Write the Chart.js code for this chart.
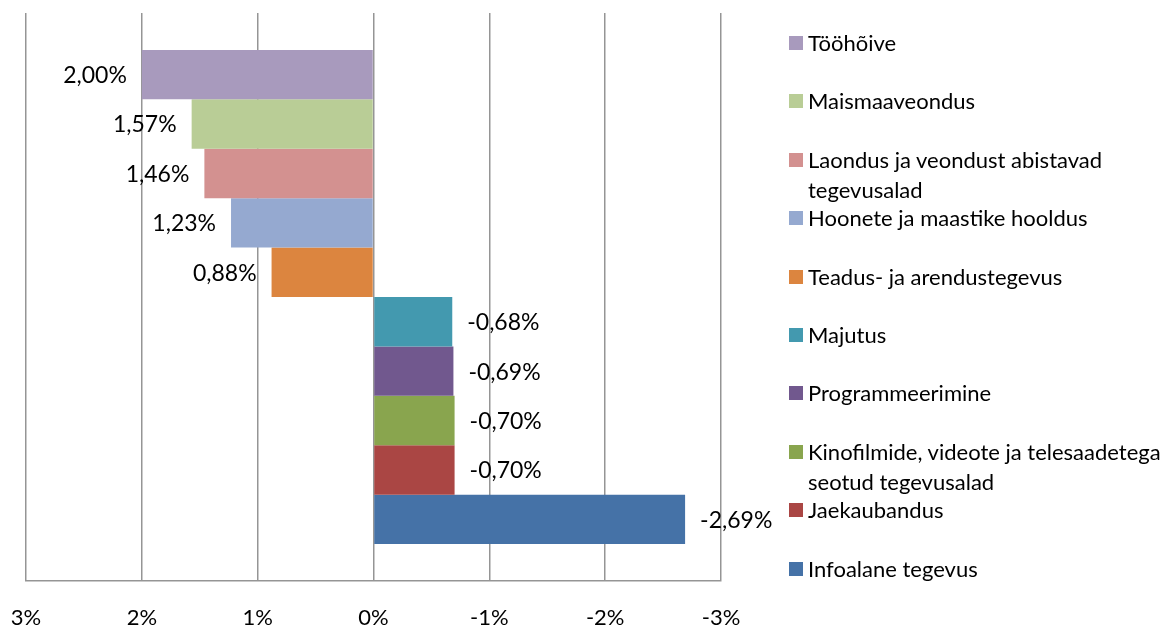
<!DOCTYPE html>
<html>
<head>
<meta charset="utf-8">
<script src="https://cdn.jsdelivr.net/npm/chart.js@4"></script>
<style>
  html, body { margin: 0; padding: 0; background: #fff; }
  #wrap { position: relative; width: 1174px; height: 626px; }
  #legend { position: absolute; left: 789px; top: 0; width: 385px; font-family: Lato, sans-serif; font-size: 22px; color: #000; }
  .item { position: absolute; left: 0; display: flex; align-items: flex-start; width: 385px; }
  .box { width: 14px; height: 14px; flex: none; margin-top: 8px; margin-right: 5px; }
  .txt { line-height: 30px; }
</style>
</head>
<body>
<div id="wrap">
  <canvas id="chart" width="1174" height="626"></canvas>
  <div id="legend"></div>
</div>
<script>
const seriesNames = [
    'Tööhõive',
    'Maismaaveondus',
    'Laondus ja veondust abistavad tegevusalad',
    'Hoonete ja maastike hooldus',
    'Teadus- ja arendustegevus',
    'Majutus',
    'Programmeerimine',
    'Kinofilmide, videote ja telesaadetega seotud tegevusalad',
    'Jaekaubandus',
    'Infoalane tegevus'
];
const seriesValues = [2.00, 1.57, 1.46, 1.23, 0.88, -0.68, -0.69, -0.70, -0.70, -2.69];
const seriesColors = ['#A89ABD', '#B9CD96', '#D39190', '#95A9D0', '#DC853F', '#4399AF', '#71588E', '#89A54E', '#AA4644', '#4572A7'];
const tickValues = [3, 2, 1, 0, -1, -2, -3];

const FONT = 'Lato, sans-serif';

// value labels next to each bar
const barLabels = {
    id: 'barLabels',
    afterDatasetsDraw(chart) {
        const ctx = chart.ctx;
        ctx.save();
        ctx.font = '23px ' + FONT;
        ctx.fillStyle = '#000';
        ctx.textBaseline = 'middle';
        chart.data.datasets.forEach((ds, i) => {
            const bar = chart.getDatasetMeta(i).data[0];
            const v = ds.data[0];
            const txt = v.toFixed(2).replace('.', ',') + '%';
            if (v > 0) {
                ctx.textAlign = 'right';
                ctx.fillText(txt, bar.x - 15, bar.y + 1);
            } else {
                ctx.textAlign = 'left';
                ctx.fillText(txt, bar.x + 15, bar.y + 1);
            }
        });
        ctx.restore();
    }
};

const ctx = document.getElementById('chart');

new Chart(ctx, {
    type: 'bar',
    data: {
        labels: [''],
        datasets: seriesNames.map((name, i) => ({
            label: name,
            data: [seriesValues[i]],
            backgroundColor: seriesColors[i],
            borderWidth: 0,
            barPercentage: 1,
            categoryPercentage: 0.87
        }))
    },
    options: {
        indexAxis: 'y',
        responsive: false,
        animation: false,
        layout: {
            padding: { left: 26, right: 453, top: 13, bottom: 0 }
        },
        plugins: {
            legend: { display: false },
            tooltip: { enabled: false }
        },
        scales: {
            x: {
                type: 'linear',
                reverse: true,
                min: -3,
                max: 3,
                afterBuildTicks: (scale) => {
                    scale.ticks = tickValues.map(v => ({ value: v }));
                },
                afterFit: (scale) => {
                    scale.height = 45;
                    scale.paddingLeft = 0;
                    scale.paddingRight = 0;
                },
                grid: {
                    color: '#959595',
                    lineWidth: 1.5,
                    drawTicks: false
                },
                border: { display: true, color: '#959595', width: 1.5 },
                ticks: {
                    padding: 24,
                    color: '#000',
                    font: { family: FONT, size: 22 },
                    maxRotation: 0,
                    callback: (v) => v + '%'
                }
            },
            y: {
                display: false
            }
        }
    },
    plugins: [barLabels]
});

// legend at the right, one row per series
const legend = document.getElementById('legend');
seriesNames.forEach((name, i) => {
    const item = document.createElement('div');
    item.className = 'item';
    item.style.top = (28 + 58.4 * i) + 'px';
    item.innerHTML = '<span class="box" style="background:' + seriesColors[i] + '"></span><span class="txt"></span>';
    item.querySelector('.txt').textContent = name;
    legend.appendChild(item);
});
</script>
</body>
</html>
